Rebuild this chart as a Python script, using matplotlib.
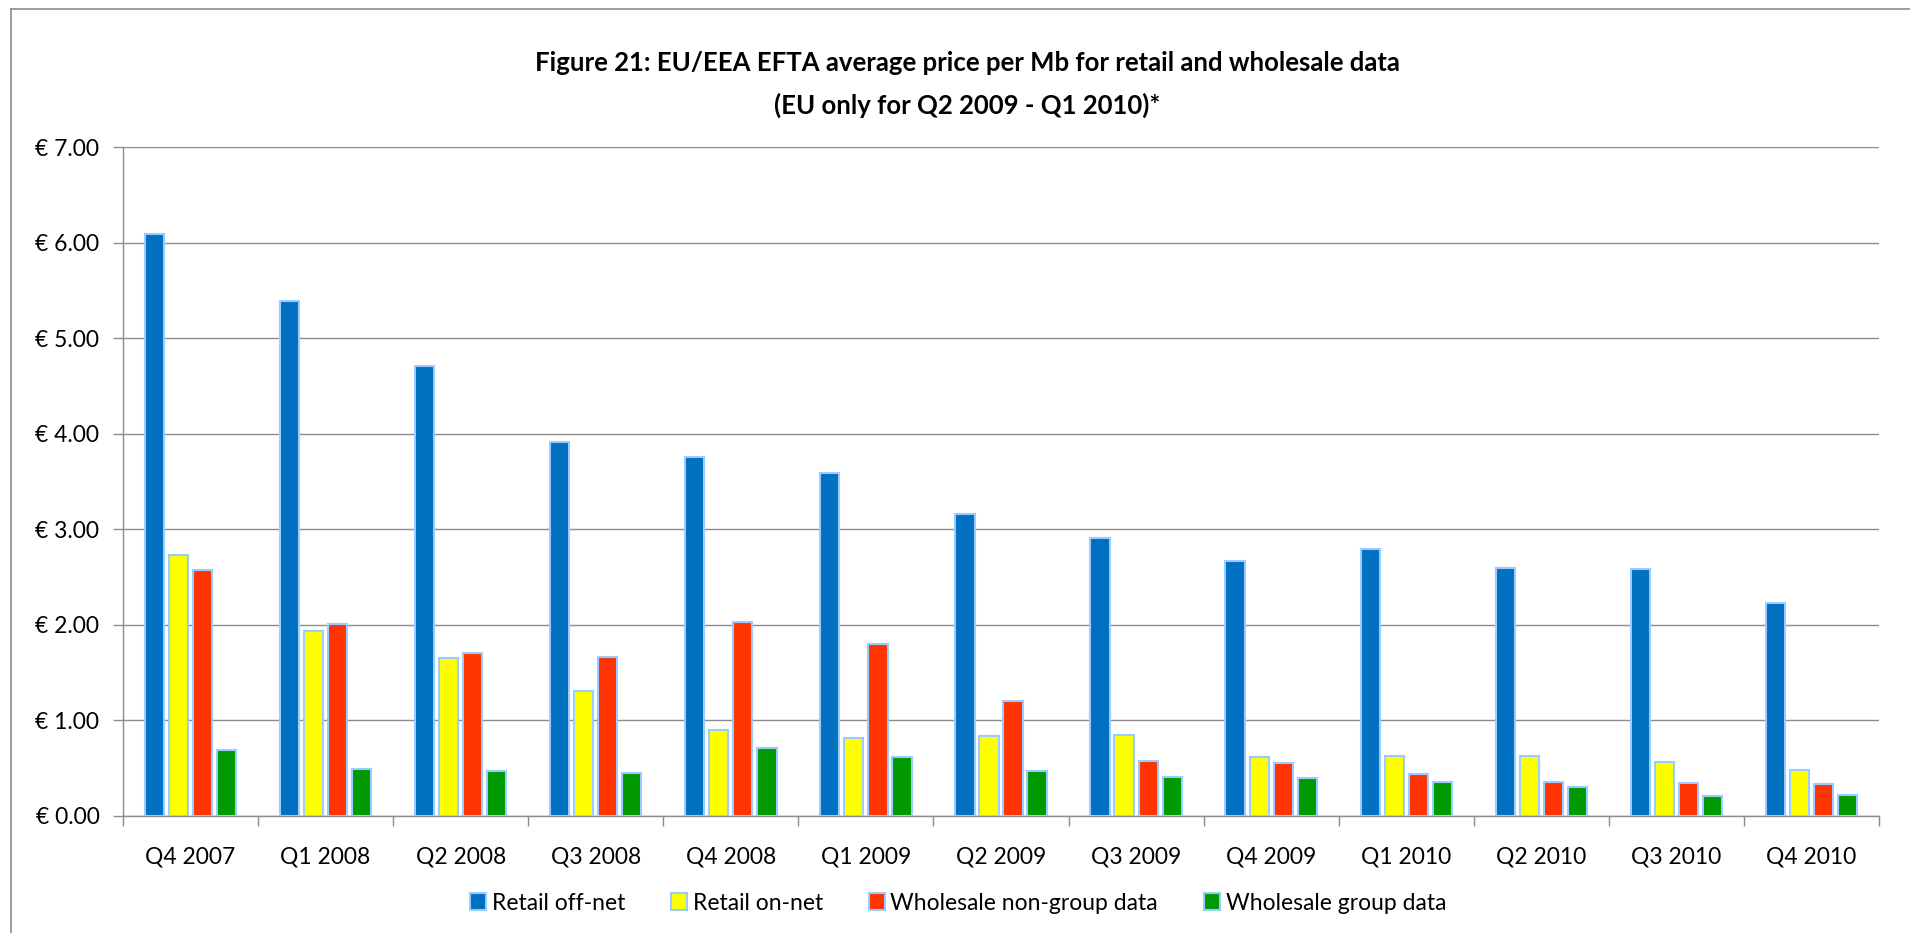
import numpy as np
import matplotlib.pyplot as plt
from matplotlib.patches import Patch
from matplotlib.lines import Line2D
from matplotlib.ticker import FuncFormatter

plt.rcParams['font.family'] = ['Lato', 'DejaVu Sans']

quarters = ['Q4 2007', 'Q1 2008', 'Q2 2008', 'Q3 2008', 'Q4 2008', 'Q1 2009', 'Q2 2009',
            'Q3 2009', 'Q4 2009', 'Q1 2010', 'Q2 2010', 'Q3 2010', 'Q4 2010']
retail_off = [6.09, 5.39, 4.71, 3.91, 3.76, 3.59, 3.16, 2.91, 2.67, 2.79, 2.60, 2.58, 2.23]
retail_on = [2.73, 1.94, 1.65, 1.31, 0.90, 0.82, 0.84, 0.85, 0.62, 0.63, 0.63, 0.57, 0.48]
whole_nongroup = [2.57, 2.01, 1.71, 1.66, 2.03, 1.80, 1.20, 0.58, 0.55, 0.44, 0.36, 0.35, 0.34]
whole_group = [0.69, 0.49, 0.47, 0.45, 0.71, 0.62, 0.47, 0.41, 0.40, 0.36, 0.30, 0.21, 0.22]

series = [('Retail off-net', retail_off, '#0070C0'),
          ('Retail on-net', retail_on, '#FFFF00'),
          ('Wholesale non-group data', whole_nongroup, '#FF3300'),
          ('Wholesale group data', whole_group, '#009900')]
edge = '#99CCFF'

fig = plt.figure(figsize=(19.1, 9.33), dpi=100)
ax = fig.add_axes([123 / 1910, 1 - 816 / 933, (1879 - 123) / 1910, (816 - 147) / 933])

x = np.arange(len(quarters))
step = 0.178
for k, (name, vals, col) in enumerate(series):
    ax.bar(x + (k - 1.5) * step, vals, width=0.142, color=col, edgecolor=edge,
           linewidth=1.5, zorder=3)

ax.set_xlim(-0.5, len(quarters) - 0.5)
ax.set_ylim(0, 7)
ax.set_yticks(np.arange(0, 8, 1))
ax.yaxis.set_major_formatter(FuncFormatter(lambda v, p: '€ %.2f' % v))
ax.yaxis.grid(True, color='#8C8C8C', linewidth=1.0, zorder=0)
ax.set_axisbelow(True)

# category labels centered, ticks on boundaries
ax.set_xticks(x)
ax.set_xticklabels(quarters)
ax.set_xticks(np.arange(-0.5, len(quarters), 1), minor=True)
ax.tick_params(axis='x', which='major', length=0, pad=22, labelsize=16.5)
ax.tick_params(axis='x', which='minor', length=7, color='#8C8C8C', width=1, direction='out')
ax.tick_params(axis='y', length=7, color='#8C8C8C', width=1, direction='out', pad=10, labelsize=16.5)

for s in ['top', 'right']:
    ax.spines[s].set_visible(False)
for s in ['left', 'bottom']:
    ax.spines[s].set_color('#8C8C8C')
    ax.spines[s].set_linewidth(1)

fig.text(0.5065, 1 - 63 / 933, 'Figure 21: EU/EEA EFTA average price per Mb for retail and wholesale data',
         ha='center', va='center', fontsize=18.5, fontweight='bold')
fig.text(0.5065, 1 - 105 / 933, '(EU only for Q2 2009 - Q1 2010)*',
         ha='center', va='center', fontsize=18.5, fontweight='bold')

handles = [Patch(facecolor=c, edgecolor=edge, linewidth=1.5, label=n) for n, v, c in series]
fig.legend(handles=handles, loc='center', bbox_to_anchor=(958 / 1910, 1 - 903 / 933), ncol=4,
           frameon=False, fontsize=16.5, handlelength=0.7, handleheight=0.7,
           handletextpad=0.25, columnspacing=2.0)

# outer chart border (left and top edges visible)
fig.add_artist(Line2D([11 / 1910, 11 / 1910], [0, 1 - 9 / 933], transform=fig.transFigure,
                      color='#8C8C8C', linewidth=1.2))
fig.add_artist(Line2D([11 / 1910, 1], [1 - 9 / 933, 1 - 9 / 933], transform=fig.transFigure,
                      color='#8C8C8C', linewidth=1.2))

fig.savefig('out.png', dpi=100)
